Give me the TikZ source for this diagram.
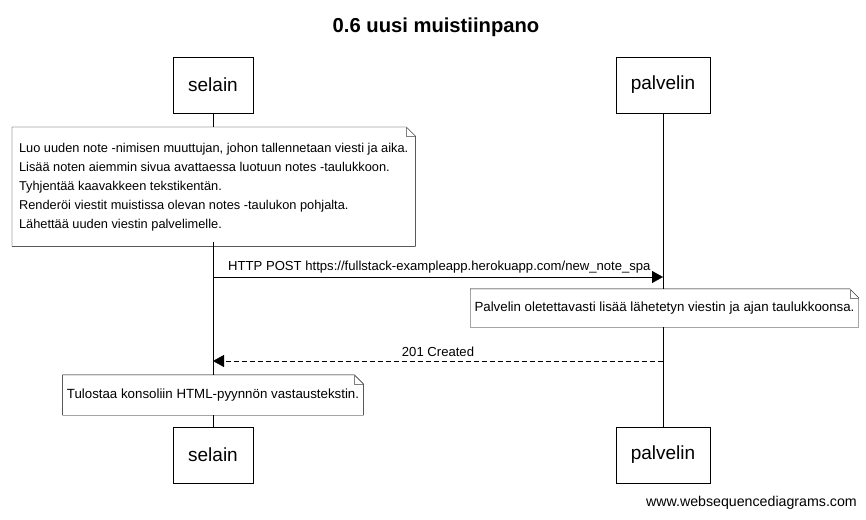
\documentclass[tikz,border=0pt]{standalone}
\usepackage{fontspec}
\setmainfont{Liberation Sans}
\usepackage{tikz}
\usetikzlibrary{arrows.meta}
\usetikzlibrary{positioning}

\begin{document}
\begin{tikzpicture}[
  x=1pt, y=-1pt,
  actor/.style={draw, fill=white, minimum width=80pt, minimum height=56pt,
    inner sep=0pt, font=\fontsize{19}{20}\selectfont},
  note/.style={fill=white, inner xsep=4pt, inner ysep=0pt, align=left,
    font=\fontsize{13.3}{19}\selectfont},
  msg/.style={-{Triangle[length=11pt,width=12pt]}},
  reply/.style={msg, dash pattern=on 5pt off 3pt},
  lbl/.style={font=\fontsize{13.1}{14}\selectfont, inner sep=1pt}]

  \useasboundingbox (0,0) rectangle (866,519);

  % title
  \node[font=\fontsize{20.2}{22}\selectfont\bfseries] (title) at (436,27) {0.6 uusi muistiinpano};

  % participants
  \node[actor] (selain) at (213,85) {\raisebox{-3pt}{selain}};
  \node[actor, minimum width=94pt] (palvelin) at (663,85) {\raisebox{-3pt}{palvelin}};
  \node[actor] (selainB) at (213,455) {\raisebox{-3pt}{selain}};
  \node[actor, minimum width=94pt] (palvelinB) at (663,455) {\raisebox{-3pt}{palvelin}};

  % lifelines
  \draw (selain.south) -- (selainB.north);
  \draw (palvelin.south) -- (palvelinB.north);

  % first note
  \fill[white] (12,127) rectangle (415,242);
  \node[note, font=\fontsize{12.8}{19}\selectfont, minimum width=403pt,
    minimum height=111pt, anchor=north west] (n1) at (12,131) {%
    Luo uuden note -nimisen muuttujan, johon tallennetaan viesti ja aika.\\
    Lisää noten aiemmin sivua avattaessa luotuun notes -taulukkoon.\\
    Tyhjentää kaavakkeen tekstikentän.\\
    Renderöi viestit muistissa olevan notes -taulukon pohjalta.\\
    Lähettää uuden viestin palvelimelle.};
  \draw ([yshift=-4pt]n1.south west) -- ([yshift=4pt]n1.north west)
    -- ([xshift=-9pt,yshift=4pt]n1.north east) -- ([yshift=-5pt]n1.north east)
    -- ([yshift=-4pt]n1.south east) -- cycle;
  \draw[gray] ([xshift=-9pt,yshift=4pt]n1.north east) |- ([yshift=-5pt]n1.north east);

  % request
  \coordinate (s1) at (213,277);
  \coordinate (p1) at (663,277);
  \draw[msg] (s1) -- (p1);
  \node[lbl, anchor=south west] (m1) at (227,274)
    {HTTP POST https://fullstack-exampleapp.herokuapp.com/new\_note\_spa};

  % server note
  \node[note, minimum width=385pt, minimum height=38pt] (n2) at (664.5,308)
    {Palvelin oletettavasti lisää lähetetyn viestin ja ajan taulukkoonsa.};
  \draw (n2.south west) -- (n2.north west) -- ([xshift=-9pt]n2.north east)
    -- ([yshift=-9pt]n2.north east) -- (n2.south east) -- cycle;
  \draw[gray] ([xshift=-9pt]n2.north east) |- ([yshift=-9pt]n2.north east);

  % response
  \coordinate (p2) at (663,361);
  \coordinate (s2) at (213,361);
  \draw[reply] (p2) -- (s2);
  \node[lbl, anchor=south] (m2) at (438,358) {201 Created};

  % browser note
  \node[note, minimum width=300pt, minimum height=40pt] (n3) at (213,395)
    {Tulostaa konsoliin HTML-pyynnön vastaustekstin.};
  \draw (n3.south west) -- (n3.north west) -- ([xshift=-9pt]n3.north east)
    -- ([yshift=-9pt]n3.north east) -- (n3.south east) -- cycle;
  \draw[gray] ([xshift=-9pt]n3.north east) |- ([yshift=-9pt]n3.north east);

  % footer
  \node[anchor=east, font=\fontsize{14.2}{16}\selectfont, inner sep=0pt] (web) at (857,503)
    {www.websequencediagrams.com};
\end{tikzpicture}
\end{document}
